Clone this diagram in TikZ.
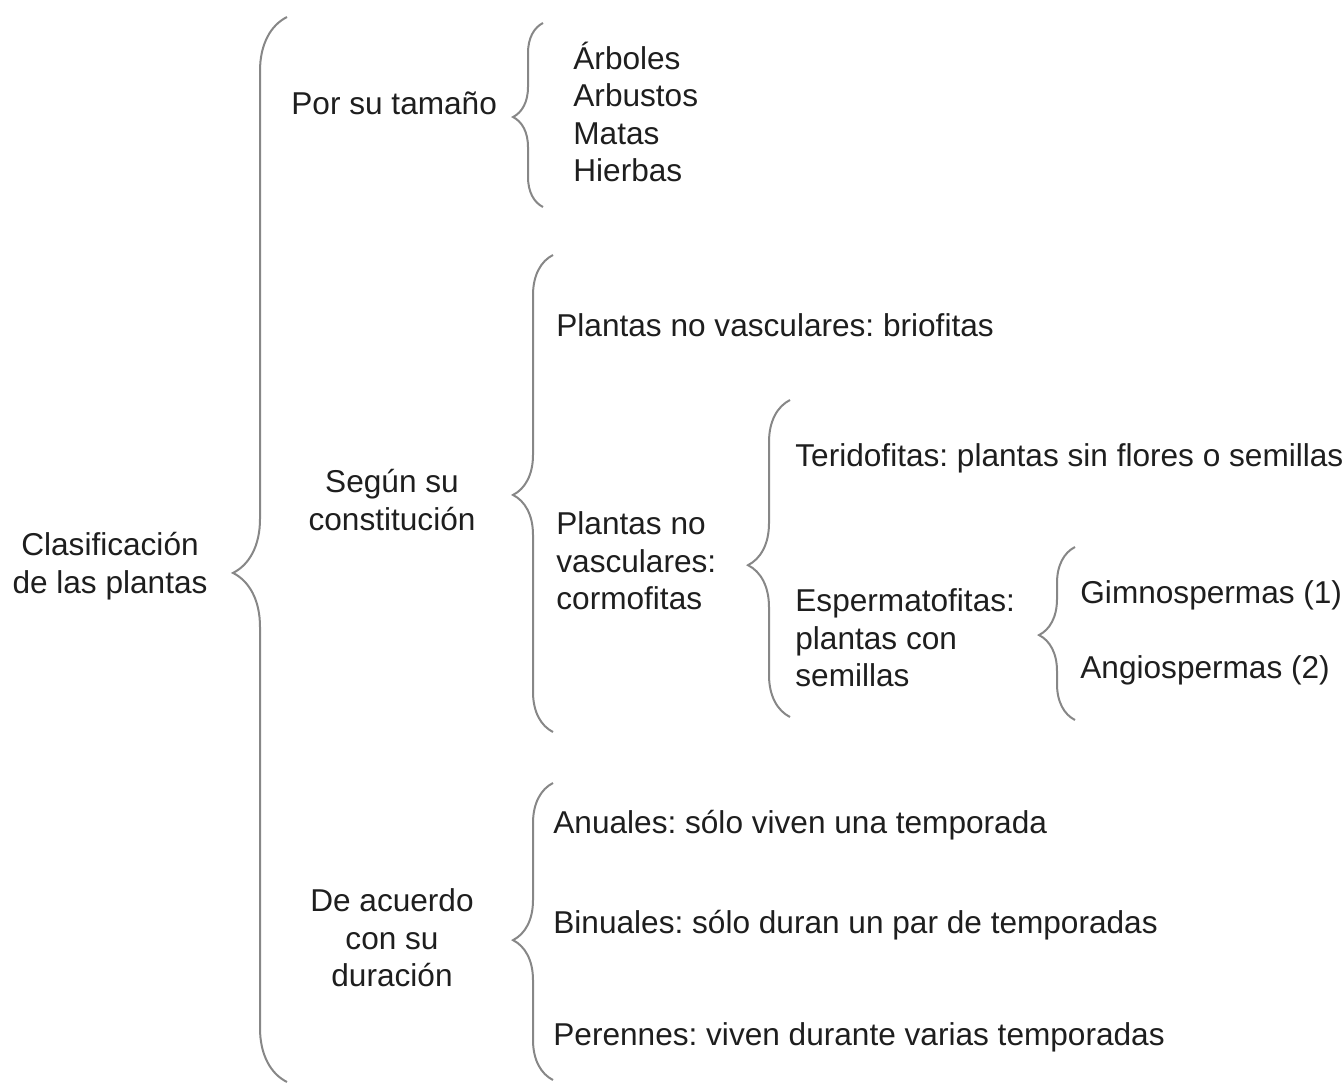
\documentclass[tikz,border=0pt]{standalone}
\usepackage{fontspec}
\setmainfont{Liberation Sans}
\usepackage{xcolor}
\definecolor{braceGray}{RGB}{135, 135, 135}
\definecolor{txtDark}{RGB}{30, 30, 30}
\usepackage{tikz}
\usetikzlibrary{positioning,decorations.pathreplacing}
\frenchspacing

\begin{document}
\begin{tikzpicture}[
  x=0.5pt, y=-0.5pt,
  txt/.style={inner sep=0pt, anchor=west, align=left, text=txtDark,
              font=\fontsize{15.8}{18.75}\selectfont},
  ctxt/.style={txt, anchor=center, align=center},
  brc/.style 2 args={decorate, decoration={brace, amplitude=#1, aspect=#2},
                     draw=braceGray, line width=1pt}
]
\useasboundingbox (0,0) rectangle (1344,1082);
\node[ctxt] (clasif)  at (110, 566)  {Clasificación\\de las plantas};
\node[txt]  (tamano)  at (291, 103)  {Por su tamaño};
\node[txt]  (tamlist) at (573, 112)  {Árboles\\Arbustos\\Matas\\Hierbas};
\node[ctxt] (constit) at (392, 500)  {Según su\\constitución};
\node[txt]  (brio)    at (556, 325)  {Plantas no vasculares: briofitas};
\node[txt]  (cormo)   at (556, 561)  {Plantas no\\vasculares:\\cormofitas};
\node[txt]  (terido)  at (795, 458)  {Teridofitas: plantas sin flores o semillas};
\node[txt]  (esperm)  at (795, 638)  {Espermatofitas:\\plantas con\\semillas};
\node[txt]  (gimno)   at (1080, 595) {Gimnospermas (1)};
\node[txt]  (angio)   at (1080, 670) {Angiospermas (2)};
\node[ctxt] (durac)   at (392, 938)  {De acuerdo\\con su\\duración};
\node[txt]  (anual)   at (553, 825)  {Anuales: sólo viven una temporada};
\node[txt]  (binual)  at (553, 925)  {Binuales: sólo duran un par de temporadas};
\node[txt]  (perenne) at (553, 1037) {Perennes: viven durante varias temporadas};
\coordinate (b0t) at (287, 17);   \coordinate (b0b) at (287, 1082);
\coordinate (b1t) at (543, 23);   \coordinate (b1b) at (543, 207);
\coordinate (b2t) at (553, 255);  \coordinate (b2b) at (553, 732);
\coordinate (b3t) at (790, 400);  \coordinate (b3b) at (790, 717);
\coordinate (b4t) at (1075, 547); \coordinate (b4b) at (1075, 720);
\coordinate (b5t) at (553, 783);  \coordinate (b5b) at (553, 1080);
\draw[brc={27pt}{0.478}] (b0b) -- (b0t);
\draw[brc={15pt}{0.489}] (b1b) -- (b1t);
\draw[brc={20pt}{0.497}] (b2b) -- (b2t);
\draw[brc={21pt}{0.479}] (b3b) -- (b3t);
\draw[brc={18pt}{0.491}] (b4b) -- (b4t);
\draw[brc={20pt}{0.471}] (b5b) -- (b5t);
\end{tikzpicture}
\end{document}
